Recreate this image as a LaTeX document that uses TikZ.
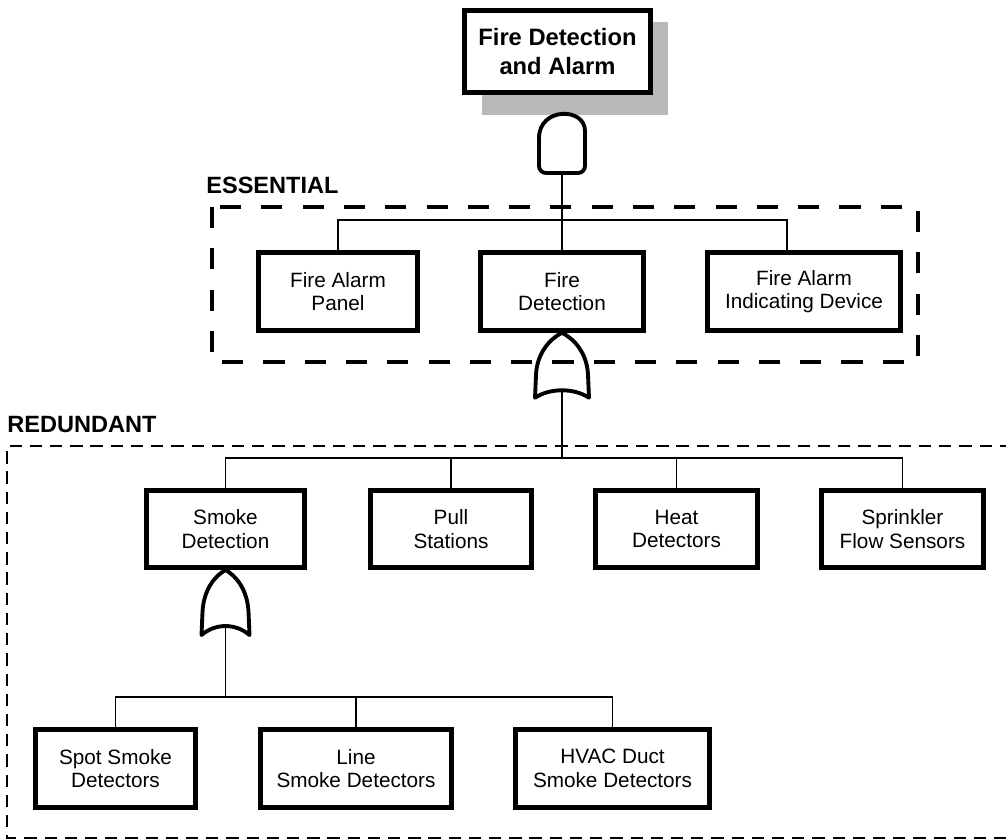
\documentclass[tikz,border=0pt]{standalone}
\usepackage{fontspec}
\setmainfont{Liberation Sans}
\usepackage{tikz}

\tikzset{
  evbox/.style={draw, line width=2.6pt, fill=white, align=center, inner sep=2pt,
    minimum height=1.55cm, font=\fontsize{11.8}{13.5}\selectfont},
  topbox/.style={evbox, minimum height=1.64cm, font=\fontsize{13.5}{16}\selectfont\bfseries},
  link/.style={line width=0.9pt},
  gatepath/.style={line width=2.2pt, line join=round},
  essential/.style={line width=2.8pt, dash pattern=on 12pt off 11.5pt},
  redundant/.style={line width=0.8pt, dash pattern=on 7pt off 4.5pt},
  lbl/.style={anchor=base west, inner sep=0pt, font=\fontsize{13.4}{16}\selectfont\bfseries}
}

\begin{document}
\begin{tikzpicture}[x=0.02cm, y=-0.02cm]
   \useasboundingbox (0,0) rectangle (1006,839);

   \draw[redundant] (1012,446) -- (7,446) -- (7,838) -- (1012,838);
   \draw[essential] (212,207) rectangle (918,362);
   \node[lbl] (esslbl) at (206,193) {ESSENTIAL};
   \node[lbl] (redlbl) at (7,432) {REDUNDANT};

   \fill[gray!55] (482,22) rectangle (668,115);
   \node[topbox, minimum width=3.72cm] (top) at (557.5,51.5) {Fire Detection\\and Alarm};

   \node[evbox, minimum width=3.18cm, minimum height=1.56cm] (panel) at (338,291.5) {Fire Alarm\\Panel};
   \node[evbox, minimum width=3.26cm, minimum height=1.56cm] (firedet) at (562,291.5) {Fire\\Detection};
   \node[evbox, minimum width=3.86cm, minimum height=1.56cm] (indic) at (804,291.5) {Fire Alarm\\Indicating Device};

   \node[evbox, minimum width=3.16cm] (smoke) at (225.5,529) {Smoke\\Detection};
   \node[evbox, minimum width=3.22cm] (pull) at (451,529) {Pull\\Stations};
   \node[evbox, minimum width=3.24cm] (heat) at (676.5,529) {Heat\\Detectors};
   \node[evbox, minimum width=3.24cm] (sprink) at (902.5,529) {Sprinkler\\Flow Sensors};

   \node[evbox, minimum width=3.2cm, minimum height=1.56cm] (spot) at (115.5,768.5) {Spot Smoke\\Detectors};
   \node[evbox, minimum width=3.82cm, minimum height=1.56cm] (linesm) at (356,768.5) {Line\\Smoke Detectors};
   \node[evbox, minimum width=3.88cm, minimum height=1.56cm] (hvac) at (612.5,768.5) {HVAC Duct\\Smoke Detectors};

   % and gate
   \coordinate (andout) at (562,173);
   \draw[gatepath, fill=white, shift={(andout)}] (23,-35) .. controls (23,-66) and (-23,-66) .. (-23,-35)
      [rounded corners=4pt] -- (-23,0) -- (23,0) -- cycle;
   \coordinate (bus1) at (562,220);
   \draw[link] (andout) -- (bus1);
   \draw[link] (panel.north) |- (bus1) -| ([xshift=-0.34cm]indic.north);
   \draw[link] (firedet.north) -- (bus1);

   % or gates
   \draw[gatepath, shift={(firedet.south)}] (-27,65) -- (-26,42) .. controls (-25,20) and (-12,6) .. (0,0)
      .. controls (12,6) and (25,20) .. (26,42) -- (27,65) .. controls (12,55) and (-12,55) .. cycle;
   \coordinate (orfd) at ([yshift=-1.14cm]firedet.south);
   \coordinate (bus2) at (562,458);
   \draw[link] (orfd) -- (bus2);
   \draw[link] (smoke.north) |- (bus2) -| (sprink.north);
   \draw[link] (pull.north) -- (pull.north |- bus2);
   \draw[link] (heat.north) -- (heat.north |- bus2);

   \draw[gatepath, shift={(smoke.south)}] (-24,65) -- (-23,42) .. controls (-22,20) and (-11,6) .. (0,0)
      .. controls (11,6) and (22,20) .. (23,42) -- (24,65) .. controls (10,53) and (-10,53) .. cycle;
   \coordinate (orsm) at ([yshift=-1.12cm]smoke.south);
   \coordinate (bus3) at (smoke.south |- 0,697);
   \draw[link] (orsm) -- (bus3);
   \draw[link] (spot.north) |- (bus3) -| (hvac.north);
   \draw[link] (linesm.north) -- (linesm.north |- bus3);
\end{tikzpicture}
\end{document}
